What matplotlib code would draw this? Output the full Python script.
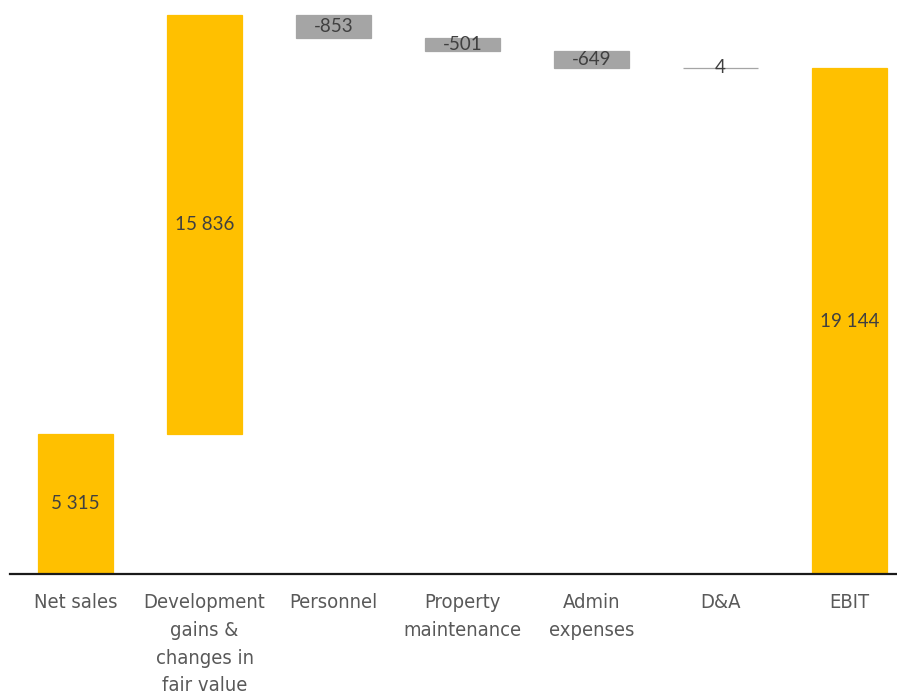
import matplotlib.pyplot as plt
import numpy as np

categories = ['Net sales', 'Development\ngains &\nchanges in\nfair value', 'Personnel',
              'Property\nmaintenance', 'Admin\nexpenses', 'D&A', 'EBIT']
changes = [5315, 15836, -853, -501, -649, -4, None]
labels = ['5 315', '15 836', '-853', '-501', '-649', '4', '19 144']
ebit = 19144

gold = '#FFC000'
grey = '#A5A5A5'

# waterfall: running total gives the floating bases
bottoms, heights, colors = [], [], []
total = 0
for c in changes:
    if c is None:
        bottoms.append(0)
        heights.append(ebit)
        colors.append(gold)
    elif c > 0:
        bottoms.append(total)
        heights.append(c)
        colors.append(gold)
        total += c
    else:
        total += c
        bottoms.append(total)
        heights.append(-c)
        colors.append(grey)

fig = plt.figure(figsize=(8.97, 6.96), dpi=100)
ax = fig.add_axes([10 / 897, 1 - 574 / 696, 887 / 897, 574 / 696])

x = np.arange(len(categories))
ax.bar(x, heights, bottom=bottoms, width=0.575, color=colors,
       edgecolor=colors, linewidth=0.9)

for xi, b, h, lab in zip(x, bottoms, heights, labels):
    ax.text(xi, b + h / 2, lab, ha='center', va='center', fontsize=13.5,
            color='#404040', family=['Lato', 'DejaVu Sans'])

ax.set_xlim(-0.508, 6.368)
ax.set_ylim(0, 21718)
ax.set_xticks(x)
ax.set_xticklabels(categories, fontsize=14.5, color='#595959', linespacing=1.57,
                   family='DejaVu Sans', fontstretch='condensed', va='top')
ax.tick_params(axis='x', length=0, pad=14)
ax.set_yticks([])
for s in ['top', 'right', 'left']:
    ax.spines[s].set_visible(False)
ax.spines['bottom'].set_color('#1a1a1a')
ax.spines['bottom'].set_linewidth(1.6)

fig.savefig('out.png', dpi=100)
